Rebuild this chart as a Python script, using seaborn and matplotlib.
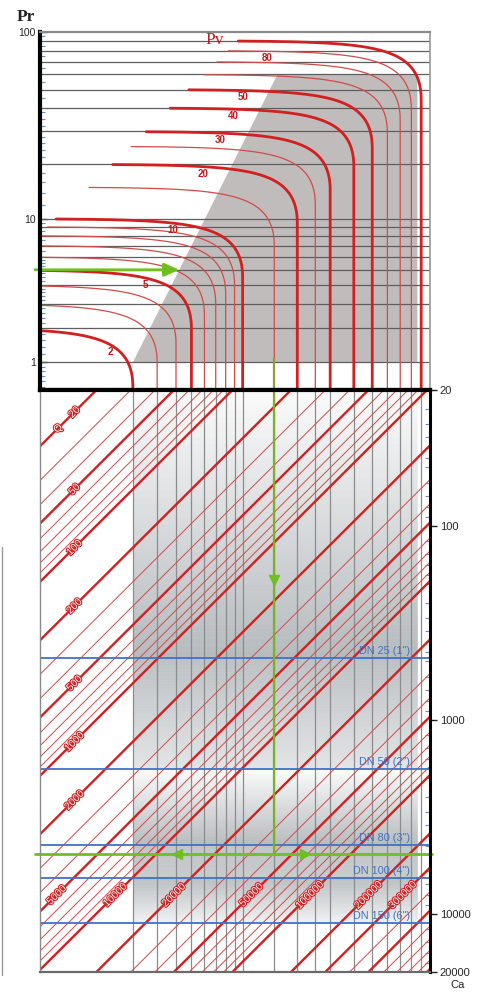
import numpy as np
import pandas as pd
import matplotlib
matplotlib.use("Agg")
import matplotlib.pyplot as plt
import seaborn as sns
from matplotlib.lines import Line2D
from matplotlib import patheffects as pe
from matplotlib.ticker import FixedLocator, FixedFormatter, NullFormatter, LogLocator

# ---------------- data ----------------
pv_curves = [2, 3, 4, 5, 6, 7, 8, 9, 10, 15, 20, 25, 30, 40, 50, 60, 70, 80, 90]
pv_thick = [2, 5, 10, 20, 30, 40, 50, 90]
pv_label_vals = [2, 5, 10, 20, 30, 40, 50, 80]
pv_label_x = [1.3, 2.5, 3.8, 5.9, 7.4, 8.8, 10.0, 13.7]
pv_start_frac = 1 / 300.0
pr_grid = [1, 2, 3, 4, 5, 6, 7, 8, 9, 10, 20, 30, 40, 50, 60, 70, 80, 90]
pr_ticks = [1, 10, 100]
gray_zone_pv = [2, 15.6, 86, 86]
gray_zone_pr = [1, 60, 60, 1]

q_values = [20, 30, 40, 50, 60, 70, 80, 90,
            100, 200, 300, 400, 500, 600, 700, 800, 900,
            1000, 2000, 3000, 4000, 5000, 6000, 7000, 8000, 9000,
            10000, 20000, 30000, 40000, 50000, 60000, 70000, 80000, 90000,
            100000, 200000, 300000, 400000, 500000, 600000, 700000, 800000, 900000, 1000000]
q_thick = [20, 50, 100, 200, 500, 1000, 2000, 5000, 10000, 20000, 50000,
           100000, 200000, 300000, 500000, 1000000]
q_factor = 1.95
q_labels_left = [20, 50, 100, 200, 500, 1000, 2000]
q_labels_row = [5000, 10000, 20000, 50000, 100000, 200000, 300000]

dn_names = ['DN 25 (1")', 'DN 50 (2")', 'DN 80 (3")', 'DN 100 (4")', 'DN 150 (6")']
dn_ca = [481, 1800, 4430, 6540, 11170]
ca_ticks = [20, 100, 1000, 10000, 20000]

band_edges = [20, 481, 1800, 4430, 6540, 11170]
band_shade = [(0.0, 1.0), (0.9, 0.35), (0.0, 1.0), (0.85, 0.75), (0.95, 0.15)]

ex_pr = 5
ex_pv_gray = 4.2
ex_pv = 15
ex_ca = 4930
ex_arrow_ca = 191
ex_marks_pv = [4.06, 22.0]

# ---------------- style ----------------
sns.set_theme(style="white")
plt.rcParams["font.family"] = ["Liberation Sans", "DejaVu Sans"]

RED = "#d21f1f"
RED_THIN = "#d24a4a"
BLUE = "#3f72c6"
GREEN = "#6fc01f"
OLIVE = "#939d35"

def fwd(x):
    x = np.asarray(x, dtype=float)
    with np.errstate(invalid="ignore", divide="ignore"):
        return np.log10(np.maximum(x + 1, 1e-9))

def inv(v):
    return 10 ** np.asarray(v, dtype=float) - 1

W_PX, H_PX = 483, 992
fig = plt.figure(figsize=(W_PX / 100, H_PX / 100), dpi=100)
L = 40 / W_PX
Wd = 390 / W_PX
ax_top = fig.add_axes([L, 1 - 390 / H_PX, Wd, (390 - 32) / H_PX])
ax_bot = fig.add_axes([L, 1 - 972 / H_PX, Wd, (972 - 390) / H_PX])

PR_MIN = 0.44

# ================= TOP PANEL =================
ax = ax_top
ax.set_xscale("function", functions=(fwd, inv))
ax.set_yscale("function", functions=(fwd, inv))
ax.set_xlim(0, 100)
ax.set_ylim(PR_MIN, 100)

ax.fill(gray_zone_pv, gray_zone_pr, color="#c0bcbb", lw=0, zorder=1)
ax.hlines(pr_grid, 0, 100, colors="#5e5e5e", lw=0.9, zorder=2)

rows = []
for V in pv_curves:
    P1 = V + 1.0
    dP = V * pv_start_frac
    f0 = max(2 * np.sqrt(dP * (P1 - dP)), 1.0)
    th = np.linspace(np.arcsin(f0 / P1), np.pi / 2, 200)
    xs = list(P1 * np.sin(th) - 1)
    ys = list(P1 * (1 + np.cos(th)) / 2 - 1)
    if ys[-1] > PR_MIN:
        xs.append(V)
        ys.append(PR_MIN)
    for i, (xx, yy) in enumerate(zip(xs, ys)):
        rows.append((V, i, xx, yy, V in pv_thick))
curves = pd.DataFrame(rows, columns=["V", "i", "Pv", "Pr", "thick"])

sns.lineplot(data=curves[~curves.thick], x="Pv", y="Pr", units="V", estimator=None,
             sort=False, color=RED_THIN, lw=0.9, ax=ax, legend=False, zorder=3)
sns.lineplot(data=curves[curves.thick], x="Pv", y="Pr", units="V", estimator=None,
             sort=False, color=RED, lw=2.0, ax=ax, legend=False, zorder=4)

for V, xl in zip(pv_label_vals, pv_label_x):
    P1 = V + 1.0
    yl = (P1 + np.sqrt(P1 ** 2 - (xl + 1) ** 2)) / 2 - 1
    ax.annotate(str(V), (xl, yl), xytext=(0, -5), textcoords="offset points",
                ha="center", va="center", fontsize=7, color="#c41818",
                fontweight="bold", zorder=6)

# green example in top panel
ax.annotate("", xy=(ex_pv_gray, ex_pr), xycoords="data",
            xytext=(-0.013, ex_pr), textcoords=("axes fraction", "data"),
            arrowprops=dict(arrowstyle="-|>,head_length=0.9,head_width=0.4",
                            color=GREEN, lw=2.0, shrinkA=0, shrinkB=0,
                            mutation_scale=10),
            annotation_clip=False, zorder=7)
ax.plot([ex_pv, ex_pv], [1.1, PR_MIN], color=OLIVE, lw=1.6, zorder=7, solid_capstyle="butt")

ax.set_xticks([])
ax.yaxis.set_major_locator(FixedLocator(pr_ticks))
ax.yaxis.set_major_formatter(FixedFormatter([str(t) for t in pr_ticks]))
minor_pr = [0.5, 0.6, 0.7, 0.8, 0.9, 1.2, 1.4, 1.6, 1.8, 2.2, 2.4, 2.6, 2.8, 3.2, 3.4, 3.6, 3.8,
            4.25, 4.5, 4.75, 5.25, 5.5, 5.75, 6.5, 7.5, 8.5, 9.5,
            12, 14, 16, 18, 22, 24, 26, 28, 32, 35, 38, 45, 55, 65, 75, 85, 95]
ax.yaxis.set_minor_locator(FixedLocator(minor_pr))
ax.yaxis.set_minor_formatter(NullFormatter())
ax.tick_params(axis="y", which="major", direction="in", length=5, width=1, color="#333333",
               labelsize=7.5, pad=3, left=True)
ax.tick_params(axis="y", which="minor", direction="in", length=3.5, width=0.8,
               color="#6f8fc4", left=True)
for side, (c, lw) in {"left": ("black", 3.0), "bottom": ("black", 3.0),
                      "top": ("#8a8a8a", 1.6), "right": ("#9a9a9a", 1.2)}.items():
    ax.spines[side].set_color(c)
    ax.spines[side].set_linewidth(lw)
    ax.spines[side].set_zorder(8)
ax.set_xlabel("")
ax.set_ylabel("")

# ================= BOTTOM PANEL =================
ax = ax_bot
ax.set_xscale("function", functions=(fwd, inv))
ax.set_yscale("log")
ax.set_xlim(0, 100)
ax.set_ylim(20000, 20)

gray = np.array([0.71, 0.73, 0.745])
white = np.array([0.985, 0.985, 0.985])
for (lo, hi), (d0, d1) in zip(zip(band_edges[:-1], band_edges[1:]), band_shade):
    n = 40
    edges = np.geomspace(lo, hi, n + 1)
    for k in range(n):
        d = d0 + (d1 - d0) * (k + 0.5) / n
        col = white * (1 - d) + gray * d
        ax.fill_between([2, 86], edges[k], edges[k + 1], color=col,
                        lw=0.4, edgecolor=col, zorder=0)

ax.vlines(pv_curves, 20, 20000, colors="#8c8c8c", lw=0.9, zorder=1)

xs = np.array([0.0, 100.0])
qrows = []
for Q in q_values:
    for xx in xs:
        qrows.append((Q, xx, q_factor * Q / (xx + 1), Q in q_thick))
qdf = pd.DataFrame(qrows, columns=["Q", "Pv", "Ca", "thick"])
sns.lineplot(data=qdf[~qdf.thick], x="Pv", y="Ca", units="Q", estimator=None, sort=False,
             color=RED_THIN, lw=0.7, ax=ax, legend=False, zorder=2)
sns.lineplot(data=qdf[qdf.thick], x="Pv", y="Ca", units="Q", estimator=None, sort=False,
             color=RED, lw=1.7, ax=ax, legend=False, zorder=3)

ax.hlines(dn_ca, 0, 100, colors=BLUE, lw=1.3, zorder=4)
for name, ca in zip(dn_names, dn_ca):
    ax.annotate(name, (0.949, ca), xycoords=("axes fraction", "data"),
                xytext=(0, 1.5), textcoords="offset points",
                ha="right", va="bottom", fontsize=7.8, color=BLUE, zorder=9)

outline = [pe.withStroke(linewidth=1.5, foreground="#d01c1c")]
def qlabel(text, xq, Q):
    yq = q_factor * Q / (xq + 1)
    ax.text(xq, yq, text, rotation=45, rotation_mode="anchor", ha="center", va="center",
            fontsize=7.5, color="white", path_effects=outline, zorder=8)

qlabel("Q", 0.237, 20)
for Q in q_labels_left:
    qlabel(str(Q), 0.5, Q)
for Q in q_labels_row:
    qlabel(str(Q), q_factor * Q / 8020.0 - 1, Q)

# green example in bottom panel
ax.plot([ex_pv, ex_pv], [20, ex_ca], color="#7cb02a", lw=1.6, zorder=6, solid_capstyle="butt")
ax.plot([ex_pv], [ex_arrow_ca], marker="v", ms=7, color=GREEN, zorder=7)
ax.plot([-0.013, 1.005], [ex_ca, ex_ca], transform=ax.get_yaxis_transform(),
        color=GREEN, lw=2.0, clip_on=False, zorder=7)
ax.plot([ex_marks_pv[0]], [ex_ca], marker="<", ms=7, color=GREEN, zorder=7)
ax.plot([ex_marks_pv[1]], [ex_ca], marker=">", ms=7, color=GREEN, zorder=7)

ax.set_xticks([])
ax.yaxis.tick_right()
ax.yaxis.set_major_locator(FixedLocator(ca_ticks))
ax.yaxis.set_major_formatter(FixedFormatter([str(t) for t in ca_ticks]))
ax.yaxis.set_minor_locator(LogLocator(base=10, subs=[1.2, 1.4, 1.6, 1.8, 2, 2.5, 3, 3.5, 4,
                                                     4.5, 5, 6, 7, 8, 9], numticks=20))
ax.yaxis.set_minor_formatter(NullFormatter())
ax.tick_params(axis="y", which="major", direction="out", length=5, width=1, color="#222222",
               labelsize=8, pad=2, right=True, left=False)
ax.tick_params(axis="y", which="minor", direction="in", length=3.5, width=0.8,
               color="#6f8fc4", right=True, left=False)
for side, (c, lw) in {"left": ("#8a8a8a", 1.0), "bottom": ("#6a6a6a", 1.6),
                      "top": ("black", 3.0), "right": ("black", 2.2)}.items():
    ax.spines[side].set_color(c)
    ax.spines[side].set_linewidth(lw)
    ax.spines[side].set_zorder(8)
ax.set_xlabel("")
ax.set_ylabel("")

# ---------------- figure texts ----------------
def fx(px):
    return px / W_PX
def fy(py):
    return 1 - py / H_PX

fig.text(fx(26), fy(17), "Pr", ha="center", va="center", fontsize=12.5, fontweight="bold",
         family=["Liberation Serif", "DejaVu Serif"], color="#222222")
fig.text(fx(215), fy(40), "Pv", ha="center", va="center", fontsize=12.5,
         family=["Liberation Serif", "DejaVu Serif"], color="#c01c1c")
fig.text(fx(450), fy(985), "Ca", ha="left", va="center", fontsize=8, color="#222222")
fig.add_artist(Line2D([fx(2), fx(2)], [fy(547), fy(975)], color="#9a9a9a", lw=1.0))

fig.savefig("out.png", dpi=100)
